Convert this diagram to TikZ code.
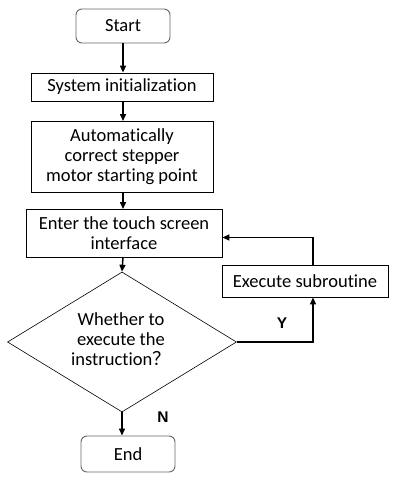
\documentclass[tikz,border=0pt]{standalone}
\usepackage{fontspec}
\setmainfont{Carlito}[Ligatures=NoCommon]
\newfontfamily\cjk{Noto Sans CJK SC}
\newfontfamily\lab{Liberation Sans}
\usetikzlibrary{shapes.geometric,arrows.meta}
\begin{document}
\begin{tikzpicture}[x=1pt,y=-1pt,
  every node/.style={font=\fontsize{18.5}{20}\selectfont, inner sep=0pt, align=center},
  procbox/.style={draw=black, line width=0.8pt, rectangle},
  termbox/.style={draw=black!60, line width=0.9pt, rectangle, rounded corners=6pt},
  decbox/.style={draw=black, line width=0.6pt, diamond, aspect=1.64},
  flow/.style={draw=black, line width=1.5pt, -{Triangle[length=7pt,width=6pt]}},
  lbl/.style={font=\lab\bfseries\fontsize{15.5}{17}\selectfont}]
\useasboundingbox (0,0) rectangle (400,482);
\node[termbox, minimum width=94pt, minimum height=34pt] (start) at (123,26) {Start};
\node[procbox, minimum width=182pt, minimum height=28pt] (init) at (122,87) {System initialization};
\node[procbox, minimum width=182pt, minimum height=71pt] (auto) at (122,156.5) {Automatically\\correct stepper\\motor starting point};
\node[procbox, minimum width=196pt, minimum height=48pt] (enter) at (124,233) {Enter the touch screen\\interface};
\node[decbox, minimum width=229pt, minimum height=140pt] (dec) at (122,342) {};
\node (dectext) at (121,339) {Whether to\\execute the\\instruction{\cjk ？}};
\node[procbox, minimum width=166pt, minimum height=32pt] (sub) at (305,281) {Execute subroutine};
\node[termbox, minimum width=94pt, minimum height=36pt] (end) at (128,454) {End};
\node[lbl] (ylab) at (282,323) {Y};
\node[lbl] (nlab) at (163,417) {N};
\coordinate (c1) at (313,342);
\coordinate (c2) at (313,237.5);
\draw[flow] (start.south) -- (start.south |- init.north);
\draw[flow] (123,101) -- (123,121);
\draw[flow] (123,192) -- (123,209);
\draw[flow] (123,257) -- (dec.north);
\draw[flow] (dec.south) -- (dec.south |- end.north);
\draw[flow] (dec.east) -- (c1) -- (c1 |- sub.south);
\draw[flow] (c1 |- sub.north) -- (c2) -- (c2 -| enter.east);
\end{tikzpicture}
\end{document}
